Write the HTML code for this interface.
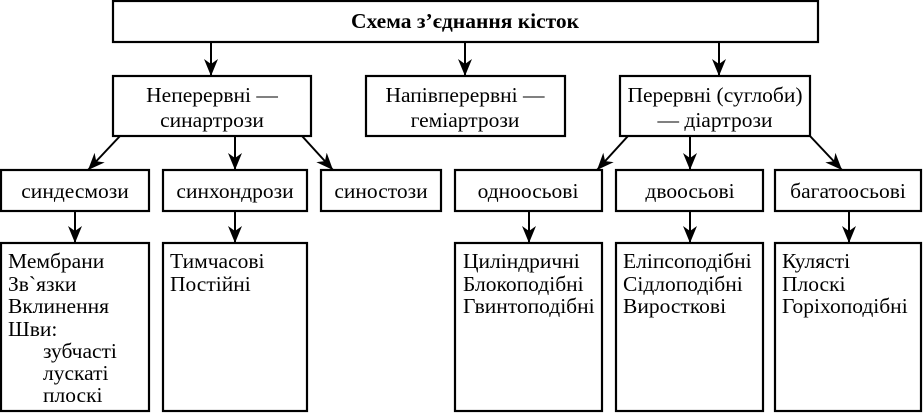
<!DOCTYPE html>
<html><head><meta charset="utf-8"><style>
html,body{margin:0;padding:0;background:#fff}
svg{display:block}
text{font-family:"Liberation Serif","DejaVu Serif",serif;font-size:21.5px;fill:#000}
</style></head><body>
<svg width="924" height="413" viewBox="0 0 924 413">
<defs><marker id="a" markerWidth="18" markerHeight="14" refX="17" refY="7" orient="auto" markerUnits="userSpaceOnUse" viewBox="0 0 18 14"><path d="M0,0 L17,7 L0,14 L5,7 Z" fill="#000"/></marker></defs>
<g fill="none" stroke="#000" stroke-width="2.2">
<rect x="113" y="1" width="705" height="41"/>
<rect x="113" y="76" width="198" height="60"/>
<rect x="366" y="76" width="199" height="60"/>
<rect x="620" y="76" width="190" height="60"/>
<rect x="1" y="170" width="148" height="41"/>
<rect x="163" y="170" width="144" height="41"/>
<rect x="321" y="170" width="120" height="41"/>
<rect x="455" y="170" width="147" height="41"/>
<rect x="616" y="170" width="147" height="41"/>
<rect x="775" y="170" width="146" height="41"/>
<rect x="1" y="243" width="148" height="168"/>
<rect x="163" y="243" width="144" height="168"/>
<rect x="455" y="243" width="147" height="168"/>
<rect x="616" y="243" width="147" height="168"/>
<rect x="775" y="243" width="146" height="168"/>
</g>
<g stroke="#000" stroke-width="2" marker-end="url(#a)">
<line x1="211" y1="42" x2="211" y2="76"/>
<line x1="465" y1="42" x2="465" y2="76"/>
<line x1="719" y1="42" x2="719" y2="76"/>
<line x1="120" y1="136" x2="88" y2="170"/>
<line x1="235" y1="136" x2="235" y2="170"/>
<line x1="302" y1="136" x2="333" y2="170"/>
<line x1="628" y1="136" x2="597" y2="170"/>
<line x1="690" y1="136" x2="690" y2="170"/>
<line x1="810" y1="136" x2="842" y2="170"/>
<line x1="75" y1="211" x2="75" y2="243"/>
<line x1="235" y1="211" x2="235" y2="243"/>
<line x1="529" y1="211" x2="529" y2="243"/>
<line x1="690" y1="211" x2="690" y2="243"/>
<line x1="849" y1="211" x2="849" y2="243"/>
</g>
<g text-anchor="middle">
<text x="465" y="28" font-weight="bold" font-size="23">Схема з’єднання кісток</text>
<text x="212" y="102">Неперервні —</text><text x="212" y="127">синартрози</text>
<text x="465" y="102">Напівперервні —</text><text x="465" y="127">геміартрози</text>
<text x="715" y="102">Перервні (суглоби)</text><text x="715" y="127">— діартрози</text>
<text x="75" y="198">синдесмози</text>
<text x="235" y="198">синхондрози</text>
<text x="381" y="198">синостози</text>
<text x="528" y="198">одноосьові</text>
<text x="690" y="198">двоосьові</text>
<text x="848" y="198">багатоосьові</text>
</g>
<g>
<text x="8" y="268">Мембрани</text><text x="8" y="291">Зв`язки</text><text x="8" y="313">Вклинення</text><text x="8" y="336">Шви:</text>
<text x="43" y="358">зубчасті</text><text x="43" y="380">лускаті</text><text x="43" y="402">плоскі</text>
<text x="170" y="268">Тимчасові</text><text x="170" y="291">Постійні</text>
<text x="463" y="268">Циліндричні</text><text x="463" y="291">Блокоподібні</text><text x="463" y="313">Гвинтоподібні</text>
<text x="623" y="268">Еліпсоподібні</text><text x="623" y="291">Сідлоподібні</text><text x="623" y="313">Виросткові</text>
<text x="782" y="268">Кулясті</text><text x="782" y="291">Плоскі</text><text x="782" y="313">Горіхоподібні</text>
</g>
</svg>
</body></html>
